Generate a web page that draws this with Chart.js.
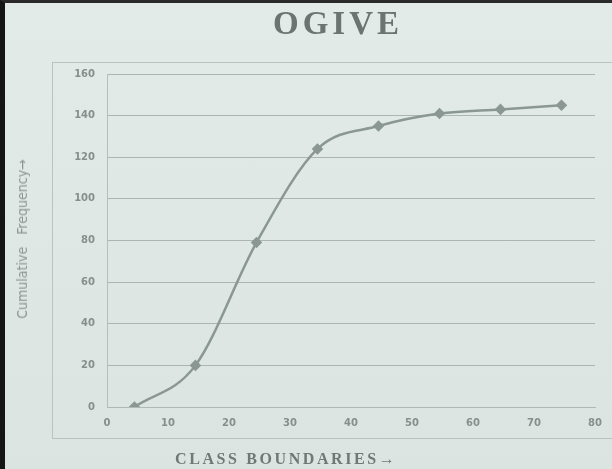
<!DOCTYPE html>
<html>
<head>
<meta charset="utf-8">
<script src="https://cdn.jsdelivr.net/npm/chart.js@4/dist/chart.umd.min.js"></script>
<style>
  html, body { margin: 0; padding: 0; background: #dfe7e4; }
  #wrap {
    position: relative; width: 607px; height: 466px;
    border-left: 5px solid #151515; border-top: 3px solid #2a2a2a;
    background: linear-gradient(#e3ebe8, #dbe4e1);
    overflow: hidden;
  }
  canvas { position: absolute; left: 0; top: 0; }
  .t { position: absolute; white-space: nowrap; }
  #title { left: 268px; top: 2px; font: bold 33px "Liberation Serif", serif; letter-spacing: 4px; color: #6b7471; }
  #xtitle { left: 170px; top: 447px; font: 16px "Liberation Serif", serif; font-weight: bold; letter-spacing: 2.6px; color: #6f7875; }
  #ytitle { left: 17px; top: 236px; font: 14px "Liberation Sans Narrow", "DejaVu Sans Condensed", sans-serif; color: #8b9591;
            transform: translate(-50%, -50%) rotate(-90deg); }
</style>
</head>
<body>
<div id="wrap">
  <canvas id="ogive" width="607" height="466"></canvas>
  <div class="t" id="title">OGIVE</div>
  <div class="t" id="xtitle">CLASS BOUNDARIES→</div>
  <div class="t" id="ytitle">Cumulative&nbsp;&nbsp;&nbsp;Frequency→</div>
</div>
<script>
// upper class boundaries and cumulative frequencies
const boundaries = [4.5, 14.5, 24.5, 34.5, 44.5, 54.5, 64.5, 74.5]
const cumFreq = [0, 20, 79, 124, 135, 141, 143, 145]
const xTicks = [0, 10, 20, 30, 40, 50, 60, 70, 80]
const yTicks = [0, 20, 40, 60, 80, 100, 120, 140, 160]

const points = boundaries.map((b, i) => ({ x: b, y: cumFreq[i] }))

// light frame around the plot, like the slide's chart box
const frame = {
  id: 'frame',
  beforeDraw(chart) {
    const c = chart.ctx
    c.save()
    c.strokeStyle = '#b9c3bf'
    c.lineWidth = 1
    c.strokeRect(47.5, 59.5, 600, 376)
    c.restore()
  }
}

const tickFont = { family: 'DejaVu Sans', size: 10, weight: 'bold' }

new Chart('ogive', {
  type: 'line',
  data: {
    datasets: [{
      data: points,
      borderColor: '#8a9793',
      backgroundColor: '#8a9793',
      borderWidth: 2.5,
      pointStyle: 'rectRot',
      pointRadius: 4,
      tension: 0.4,
      cubicInterpolationMode: 'monotone',
      fill: false
    }]
  },
  options: {
    responsive: false,
    animation: false,
    layout: { padding: { left: 47, right: 9, top: 71, bottom: 32 } },
    plugins: { legend: { display: false }, tooltip: { enabled: false } },
    scales: {
      x: {
        type: 'linear', min: 0, max: 80,
        afterBuildTicks: s => { s.ticks = xTicks.map(v => ({ value: v })) },
        afterFit: s => { s.height = 30 },
        grid: { display: false, drawTicks: false },
        border: { color: '#aeb9b5' },
        ticks: { color: '#858f8c', font: tickFont, padding: 10 }
      },
      y: {
        min: 0, max: 160,
        afterBuildTicks: s => { s.ticks = yTicks.map(v => ({ value: v })) },
        afterFit: s => { s.width = 55 },
        grid: { color: '#abb6b2', drawTicks: false },
        border: { color: '#b4beba' },
        ticks: { color: '#858f8c', font: tickFont, padding: 12 }
      }
    }
  },
  plugins: [frame]
})
</script>
</body>
</html>
